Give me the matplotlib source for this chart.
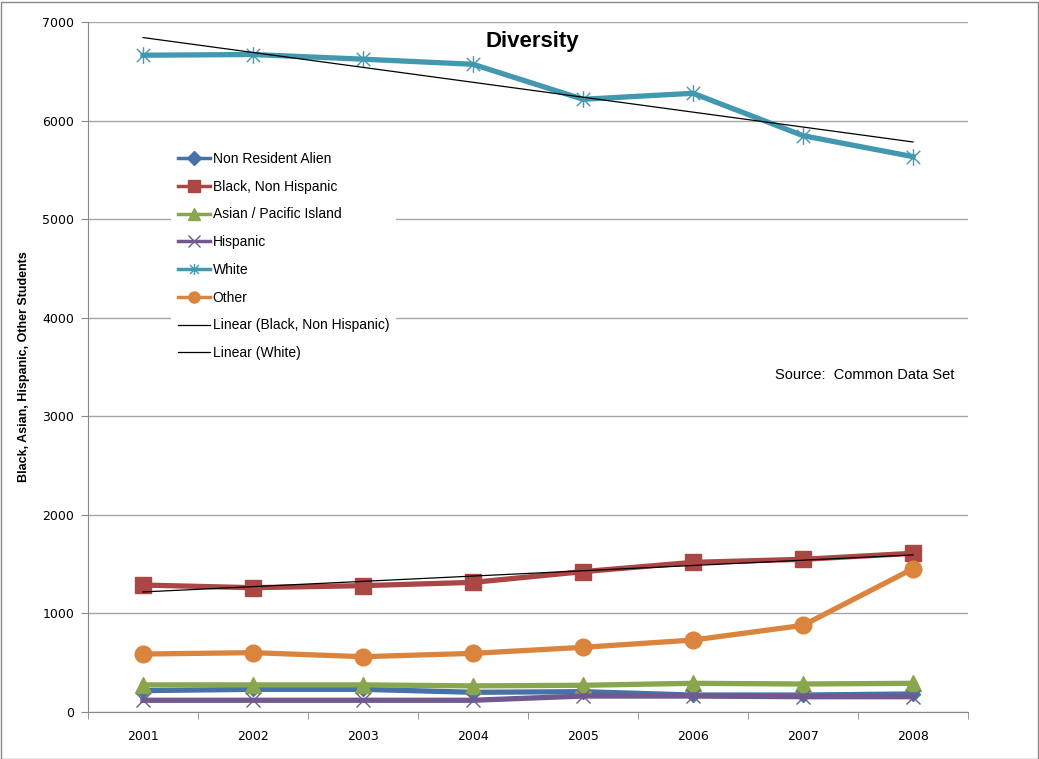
import matplotlib
matplotlib.use("Agg")
import matplotlib.pyplot as plt
import numpy as np
from matplotlib.path import Path
import matplotlib.patches as mpatches

years = ["2001", "2002", "2003", "2004", "2005", "2006", "2007", "2008"]

non_resident_alien = [217, 230, 230, 200, 206, 172, 172, 183]
black_non_hispanic = [1288, 1261, 1282, 1315, 1424, 1518, 1549, 1610]
asian_pacific = [275, 275, 275, 265, 271, 291, 284, 291]
hispanic = [119, 119, 119, 119, 162, 162, 155, 155]
white = [6663, 6670, 6623, 6571, 6216, 6277, 5847, 5634]
other = [588, 602, 561, 595, 656, 730, 879, 1454]

plt.rcParams["font.family"] = ["Liberation Sans", "DejaVu Sans"]

# asterisk marker: an x with a vertical bar through it
asterisk = Path([(-1, -1), (1, 1), (-1, 1), (1, -1), (0, -1.25), (0, 1.25)],
                [Path.MOVETO, Path.LINETO, Path.MOVETO, Path.LINETO,
                 Path.MOVETO, Path.LINETO])

fig = plt.figure(figsize=(10.39, 7.59), dpi=100)
ax = fig.add_axes([88 / 1039, 47 / 759, 880 / 1039, 690 / 759])

x = np.arange(1, len(years) + 1)
lw = 3.8

ax.plot(x, non_resident_alien, color="#4572A7", lw=lw, marker="D", ms=7,
        label="Non Resident Alien", zorder=3)
ax.plot(x, black_non_hispanic, color="#AA4643", lw=lw, marker="s", ms=12,
        label="Black, Non Hispanic", zorder=3)
ax.plot(x, asian_pacific, color="#89A54E", lw=lw, marker="^", ms=12,
        label="Asian / Pacific Island", zorder=3)
ax.plot(x, hispanic, color="#71588F", lw=lw, marker="x", ms=10, mew=1,
        label="Hispanic", zorder=3)
ax.plot(x, white, color="#4198AF", lw=lw, marker=asterisk, ms=12, mew=1,
        mfc="none", label="White", zorder=3)
ax.plot(x, other, color="#DB843D", lw=lw, marker="o", ms=12,
        label="Other", zorder=3)

# least-squares trend lines
for series, name in [(black_non_hispanic, "Linear (Black, Non Hispanic)"),
                     (white, "Linear (White)")]:
    k, b = np.polyfit(x, series, 1)
    ax.plot(x, k * x + b, color="black", lw=0.9, label=name, zorder=4)

ax.set_xlim(0.5, len(years) + 0.5)
ax.set_ylim(0, 7000)
ax.set_yticks(np.arange(0, 7001, 1000))
ax.set_xticks(x)
ax.set_xticklabels(years)
ax.set_xticks(np.arange(0.5, len(years) + 1), minor=True)
ax.tick_params(axis="x", which="major", length=0, pad=13, labelsize=9)
ax.tick_params(axis="x", which="minor", length=5, color="#888888")
ax.tick_params(axis="y", length=5, color="#888888", labelsize=9, pad=5)
for lab in ax.get_xticklabels() + ax.get_yticklabels():
    lab.set_family("DejaVu Sans")

ax.grid(axis="y", color="#a6a6a6", lw=1)
ax.set_axisbelow(True)
for side in ["top", "right"]:
    ax.spines[side].set_visible(False)
for side in ["left", "bottom"]:
    ax.spines[side].set_color("#888888")

ax.set_ylabel("Black, Asian, Hispanic, Other Students", fontsize=9,
              fontweight="bold", family=["Liberation Sans Narrow", "Liberation Sans"],
              labelpad=9)

fig.text(532 / 1039, 1 - 41 / 759, "Diversity", fontsize=16,
         fontweight="bold", ha="center", va="center")
fig.text(954 / 1039, 1 - 375 / 759, "Source:  Common Data Set", fontsize=10.5,
         ha="right", va="center")

leg = ax.legend(loc="upper left", bbox_to_anchor=(171 / 1039, 1 - 145 / 759),
                bbox_transform=fig.transFigure, fontsize=10, frameon=True,
                fancybox=False, framealpha=1, edgecolor="none",
                handlelength=2.3, handletextpad=0.2, labelspacing=0.99,
                borderpad=0.5, borderaxespad=0)
for h in leg.legend_handles:
    h.set_linewidth(min(h.get_linewidth(), 2.5))
    if h.get_markersize() > 9:
        h.set_markersize(8)
leg.set_zorder(5)

fig.patches.append(mpatches.Rectangle((0.5 / 1039, 0.5 / 759), 1037 / 1039, 757 / 759,
                                      transform=fig.transFigure, fill=False,
                                      edgecolor="#888888", lw=1))

fig.savefig("out.png", dpi=100)
